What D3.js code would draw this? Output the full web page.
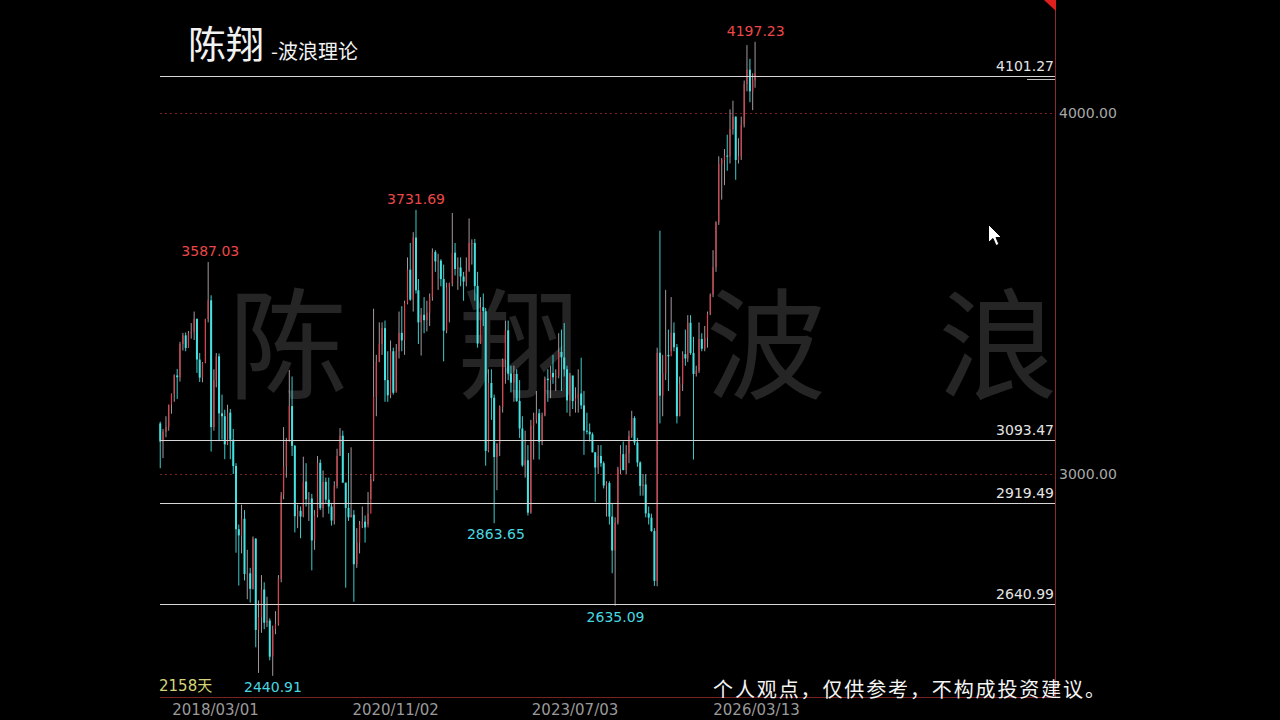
<!DOCTYPE html>
<html><head><meta charset="utf-8">
<script src="https://cdn.jsdelivr.net/npm/d3@7/dist/d3.min.js"></script>
<style>html,body{margin:0;padding:0;background:#000;overflow:hidden}</style>
</head><body><svg id="c" width="1280" height="720"></svg>
<script>
// ---- DATA (semi-monthly bars, first half of May 2017 .. first half of Mar 2026) ----
const periodStart = [2017, 5];
const firstOpen = 3140;
const highs = [
 3145,3125,3160,3192,3223,3276,3291,3366,3391,3392,3396,3418,3450,3430,3335,3310,
 3430,3587.03,3495,3290,3335,3334,3220,3178,3192,3180,3125,3030,2860,2915,2900,2790,2740,2827,2822,2650,2720,2700,2660,2600,
 2580,2620,2720,2950,3130,3100,3288,3270,3080,2915,2910,3048,3030,2950,2945,2900,3050,3040,3010,2990,2990,2920,2980,3070,
 3127,3120,2976,3058,3074,2900,2850,2870,2910,2885,2950,3000,3458,3330,3420,3420,3425,3340,3370,3350,3360,3450,3465,3480,
 3600,3640,3670,3731.69,3540,3460,3490,3480,3500,3625,3620,3610,3595,3580,3530,3530,3723,3640,3600,3600,3560,3600,3708,3650,
 3651,3560,3490,3500,3460,3290,3290,3220,3085,3190,3320,3425,3425,3300,3300,3290,3260,3160,3120,3080,3150,3170,3230,3180,
 3170,3270,3290,3300,3330,3290,3390,3400,3418,3300,3280,3270,3240,3290,3322,3230,3170,3140,3115,3060,3080,3080,3035,2980,
 2980,2920,2880,3020,3080,3090,3080,3120,3175,3160,3100,3035,3000,3000,2910,2890,2850,3350,3674,3330,3510,3400,3490,3420,
 3360,3270,3340,3400,3440,3440,3380,3300,3420,3390,3410,3450,3500,3620,3700,3880,3875,3900,3940,4010,4034,3990,3930,3990,
 4090,4188,4150,4110,4197.23
];
const lows = [
 3016,3044,3102,3120,3167,3200,3208,3256,3342,3340,3360,3375,3371,3280,3255,3254,
 3307,3420,3062,3120,3240,3091,3095,3041,3080,3041,3000,2782,2691,2780,2705,2653,2644,2680,2520,2449,2560,2570,2576,2484,
 2440.91,2556,2580,2700,2930,2990,3090,3050,2838,2850,2822,2880,2910,2870,2733,2790,2880,2900,2880,2920,2890,2857,2860,2960,
 3050,2976,2685,2870,2880,2646,2740,2780,2850,2810,2860,2930,2980,3160,3310,3330,3200,3200,3210,3220,3230,3320,3340,3330,
 3470,3480,3450,3500,3360,3328,3390,3395,3410,3480,3560,3510,3520,3312,3390,3420,3520,3550,3510,3520,3480,3520,3560,3580,
 3480,3350,3360,3410,3023,3060,3150,2863.65,2955,3050,3170,3250,3260,3226,3200,3200,3100,3020,2990,2885,2890,3040,3140,3040,
 3080,3160,3200,3210,3250,3230,3265,3230,3270,3170,3160,3180,3170,3170,3180,3053,3110,3090,3060,2923,3000,3020,2960,2882,
 2860,2725,2635.09,2860,3000,3010,3000,3030,3100,3080,3020,2940,2940,2880,2860,2840,2690,2689,3140,3160,3260,3230,3340,3340,
 3140,3160,3230,3300,3310,3330,3040,3270,3280,3340,3340,3350,3440,3490,3560,3690,3760,3800,3840,3860,3940,3815,3860,3870,
 3960,4060,4030,4008,4070
];
const closes = [
 3090,3117,3130,3192,3222,3273,3268,3360,3384,3349,3390,3393,3430,3317,3267,3307,
 3429,3481,3130,3260,3326,3168,3160,3082,3170,3095,3022,2847,2830,2876,2723,2725,2682,2821,2568,2603,2680,2588,2594,2494,
 2570,2584,2710,2941,3021,3091,3188,3078,2883,2898,2882,2979,2930,2932,2816,2886,3031,2905,2978,2929,2910,2871,2967,3050,
 3106,2976,2906,2880,2887,2750,2810,2860,2868,2852,2890,2985,3214,3310,3360,3404,3260,3218,3340,3225,3340,3391,3370,3473,
 3566,3483,3655,3509,3420,3441,3426,3447,3490,3615,3589,3591,3540,3397,3517,3528,3613,3568,3572,3547,3533,3564,3640,3640,
 3521,3361,3462,3451,3064,3252,3211,3047,3084,3186,3316,3398,3278,3253,3277,3202,3126,3024,3038,2893,3134,3151,3168,3089,
 3163,3264,3260,3280,3268,3272,3338,3323,3290,3204,3273,3202,3209,3223,3190,3120,3117,3110,3060,3018,3050,3030,2968,2975,
 2882,2788,2866,3015,3055,3011,3057,3105,3155,3087,3032,2967,2971,2891,2879,2842,2704,3336,3217,3279,3330,3326,3391,3351,
 3160,3250,3332,3320,3419,3335,3277,3286,3374,3347,3378,3444,3497,3573,3697,3858,3870,3882,3880,3955,3990,3870,3880,3968,
 4080,4120,4060,4090,4110
];
const levels = [4101.27, 3093.47, 2919.49, 2640.99];
const gridValues = [4000, 3000];
const dateTicks = ["2018-03-01", "2020-11-02", "2023-07-03", "2026-03-13"];
const extremes = [
  {v: 3587.03, d: "2018-01-29", kind: "high"},
  {v: 3731.69, d: "2021-02-18", kind: "high"},
  {v: 4197.23, d: "2026-03-06", kind: "high"},
  {v: 2440.91, d: "2019-01-04", kind: "low"},
  {v: 2863.65, d: "2022-04-27", kind: "low"},
  {v: 2635.09, d: "2024-02-05", kind: "low"}
];
const watermarkChars = ["陈", "翔", "波", "浪"];
const titleMain = "陈翔", titleSub = "-波浪理论";
const dayCountLabel = "2158天";
const disclaimer = "个人观点，仅供参考，不构成投资建议。";

// ---- build bars ----
const parse = d3.timeParse("%Y-%m-%d");
const bars = closes.map((c, i) => {
  const m = periodStart[1] - 1 + Math.floor(i / 2);
  const date = new Date(periodStart[0] + Math.floor(m / 12), m % 12, i % 2 === 0 ? 8 : 23);
  return {date, o: i === 0 ? firstOpen : closes[i - 1], h: highs[i], l: lows[i], c};
});

const svg = d3.select("#c");
const W = 1280, H = 720;
const plotL = 160, axisX = 1055, bottomY = 697;
const x = d3.scaleTime().domain([parse("2018-03-01"), parse("2026-03-13")]).range([215, 756]);
const y = d3.scaleLinear().domain([3000, 4000]).range([474, 113]);

svg.append("rect").attr("width", W).attr("height", H).attr("fill", "#000");

// watermark
const wmX = [288, 519, 766, 998];
svg.append("g").selectAll("text").data(watermarkChars).join("text")
  .attr("x", (d, i) => wmX[i]).attr("y", 338)
  .attr("text-anchor", "middle").attr("dominant-baseline", "central")
  .attr("font-family", "'Noto Sans CJK SC'").attr("font-weight", 400)
  .attr("font-size", 120).attr("fill", "#252525").text(d => d);

// dotted grid at 4000/3000
svg.append("g").selectAll("line").data(gridValues).join("line")
  .attr("x1", plotL).attr("x2", axisX).attr("y1", d => Math.round(y(d)) + 0.5).attr("y2", d => Math.round(y(d)) + 0.5)
  .attr("stroke", "#7a2222").attr("stroke-width", 1).attr("stroke-dasharray", "2,3");

// candles
const up = "#d8424e", down = "#45e2e2";
const g = svg.append("g");
g.selectAll("line").data(bars).join("line")
  .attr("x1", d => x(d.date)).attr("x2", d => x(d.date))
  .attr("y1", d => y(d.h)).attr("y2", d => y(d.l))
  .attr("stroke", d => d.c >= d.o ? "#b8a8b0" : down).attr("stroke-width", 0.9);
g.selectAll("rect").data(bars).join("rect")
  .attr("x", d => x(d.date) - (d.c >= d.o ? 0.6 : 1))
  .attr("width", d => d.c >= d.o ? 1.2 : 2)
  .attr("y", d => y(Math.max(d.o, d.c)))
  .attr("height", d => Math.max(1, Math.abs(y(d.o) - y(d.c))))
  .attr("fill", d => d.c >= d.o ? up : down);

// horizontal level lines
const lv = svg.append("g");
lv.selectAll("line").data(levels).join("line")
  .attr("x1", plotL).attr("x2", axisX).attr("y1", d => Math.round(y(d)) + 0.5).attr("y2", d => Math.round(y(d)) + 0.5)
  .attr("stroke", "#d6d6d6").attr("stroke-width", 1);
lv.append("line").attr("x1", 1027).attr("x2", axisX)
  .attr("y1", Math.round(y(levels[0])) + 3.5).attr("y2", Math.round(y(levels[0])) + 3.5)
  .attr("stroke", "#bdbdbd").attr("stroke-width", 1);
lv.selectAll("text").data(levels).join("text")
  .attr("x", axisX - 1).attr("y", d => y(d) - 5).attr("text-anchor", "end")
  .attr("font-family", "'DejaVu Sans'").attr("font-size", 14).attr("fill", "#e4e4e4")
  .text(d => d.toFixed(2));

// axes frame
svg.append("line").attr("x1", axisX + 0.5).attr("x2", axisX + 0.5).attr("y1", 0).attr("y2", bottomY)
  .attr("stroke", "#8a2a2a").attr("stroke-width", 1);
svg.append("line").attr("x1", plotL).attr("x2", axisX).attr("y1", bottomY + 0.5).attr("y2", bottomY + 0.5)
  .attr("stroke", "#7a2222").attr("stroke-width", 1);
svg.append("path").attr("d", `M${axisX - 11},0 L${axisX + 1},0 L${axisX + 1},11 Z`).attr("fill", "#e0201c");

// right price axis
const yAxis = d3.axisRight(y).tickValues(gridValues).tickFormat(d3.format(".2f")).tickSize(0).tickPadding(4);
const ya = svg.append("g").attr("transform", `translate(${axisX},0)`).call(yAxis);
ya.select(".domain").remove();
ya.selectAll("text").attr("font-family", "'DejaVu Sans'").attr("font-size", 14).attr("fill", "#a8a8a8");

// bottom date axis
const xAxis = d3.axisBottom(x).tickValues(dateTicks.map(parse)).tickFormat(d3.timeFormat("%Y/%m/%d")).tickSize(0).tickPadding(0);
const xa = svg.append("g").attr("transform", `translate(0,${bottomY + 7})`).call(xAxis);
xa.select(".domain").remove();
xa.selectAll("text").attr("font-family", "'DejaVu Sans'").attr("font-size", 15).attr("fill", "#9a9a9a");

// extreme labels
svg.append("g").selectAll("text").data(extremes).join("text")
  .attr("x", d => x(parse(d.d)) + 1)
  .attr("y", d => d.kind === "high" ? y(d.v) - 11 : y(d.v) + 11)
  .attr("text-anchor", "middle").attr("dominant-baseline", "central")
  .attr("font-family", "'DejaVu Sans'").attr("font-size", 14)
  .attr("fill", d => d.kind === "high" ? "#ec4848" : "#48d8e0")
  .text(d => d.v.toFixed(2));

// day count
svg.append("text").attr("x", 159).attr("y", 691).attr("font-family", "'DejaVu Sans', 'Noto Sans CJK SC'")
  .attr("font-size", 15).attr("fill", "#d4d47a").text(dayCountLabel);

// title
svg.append("text").attr("x", 188).attr("y", 58).attr("font-family", "'Noto Sans CJK SC'").attr("font-weight", 400)
  .attr("font-size", 38).attr("fill", "#f2f2f2").text(titleMain);
svg.append("text").attr("x", 271).attr("y", 59).attr("font-family", "'Noto Sans CJK SC'")
  .attr("font-size", 20).attr("fill", "#f2f2f2").text(titleSub);

// disclaimer
svg.append("text").attr("x", 713).attr("y", 697).attr("font-family", "'Noto Sans CJK SC'")
  .attr("font-size", 20).attr("fill", "#f4f4f4").attr("textLength", 392).text(disclaimer);

// mouse cursor
svg.append("path")
  .attr("d", "M0,0 L0,18 L4.5,14 L7.5,21 L10.5,19.8 L7.5,13 L13,13 Z")
  .attr("transform", "translate(988.5,224.5)")
  .attr("fill", "#fff").attr("stroke", "#000").attr("stroke-width", 1);
</script></body></html>
